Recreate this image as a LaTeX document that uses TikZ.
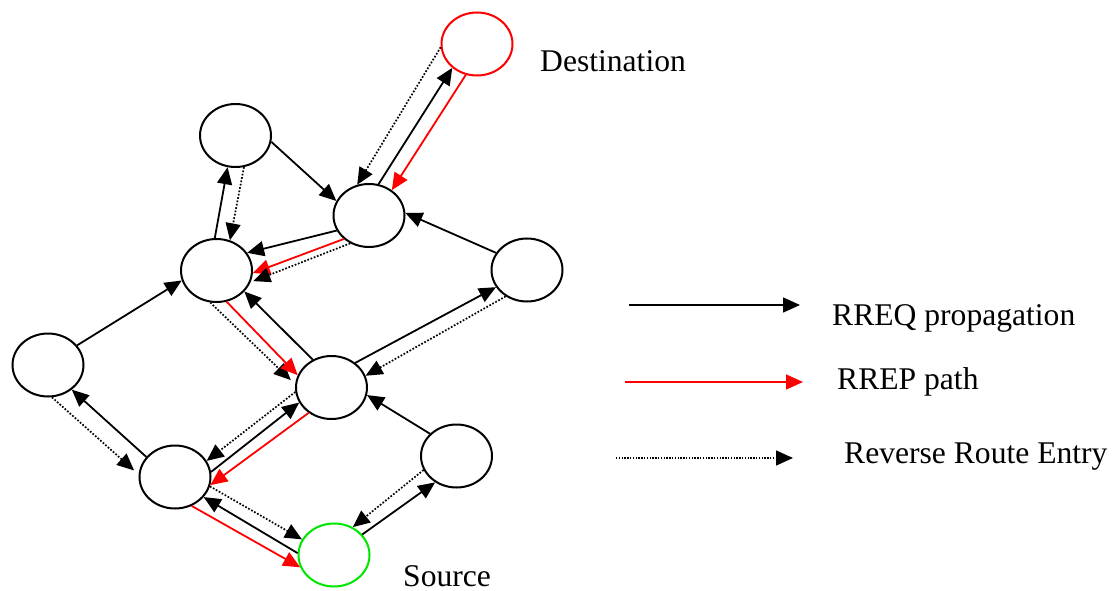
\documentclass[tikz,border=0pt]{standalone}
\usepackage{fontspec}
\setmainfont{Liberation Serif}
\usetikzlibrary{shapes.geometric,arrows.meta}

\definecolor{srcgreen}{RGB}{0,230,0}

\tikzset{
  netnode/.style={ellipse, draw, line width=2pt, minimum width=71pt, minimum height=63pt, inner sep=0pt},
  tipstyle/.style={-{Triangle[length=17pt,width=15pt]}},
  req/.style={line width=1.8pt, tipstyle},
  rep/.style={req, red},
  rev/.style={line width=1.7pt, dash pattern=on 1.7pt off 1.7pt, tipstyle},
  lbl/.style={anchor=base west, inner sep=0pt, font=\fontsize{31.6}{37}\selectfont}
}

\begin{document}
\begin{tikzpicture}[x=1pt,y=-1pt]
\useasboundingbox (0,0) rectangle (1120,591);

% network nodes
\node[netnode, draw=red] (dst) at (477,44) {};
\node[netnode] (n1) at (235.5,135.5) {};
\node[netnode] (n2) at (369,215.5) {};
\node[netnode] (n3) at (216.5,270.5) {};
\node[netnode] (n4) at (527,270) {};
\node[netnode] (n5) at (48,365) {};
\node[netnode] (n6) at (331.5,387.5) {};
\node[netnode] (n7) at (456.5,456) {};
\node[netnode] (n8) at (175,477) {};
\node[netnode, draw=srcgreen] (src) at (334,555) {};

% labels
\node[lbl] (dstlbl) at (540,72) {Destination};
\node[lbl] (srclbl) at (403,586) {Source};

% destination <-> n2
\draw[rev] (dst.185) -- (n2.111);
\draw[req] (n2.73) -- (dst.224);
\draw[rep] (dst.250) -- (n2.48);

% upper triangle
\draw[req] (n1.350) -- (n2.156);
\draw[req] (n3.93) -- (n1.256);
\draw[rev] (n1.285) -- (n3.66);
\draw[req] (n2.205) -- (n3.30);
\draw[rep] (n2.223) -- (n3.356);
\draw[rev, shorten >=3pt] (n2.236) -- (n3.341);
\draw[req] (n4.151) -- (n2.4);
\draw[req] (n5.34) -- (n3.196);

% n3 <-> n6
\draw[rev, shorten >=6pt] (n3.259) -- (n6.175);
\draw[rep] (n3.288) -- (n6.160);
\draw[req] (n6.124) -- (n3.323);

% n6 <-> n4, n7
\draw[req] (n6.46) -- (n4.209);
\draw[rev] (n4.231) -- (n6.19);
\draw[req] (n7.140) -- (n6.348);

% n7 <-> source
\draw[rev] (n7.203) -- (src.56);
\draw[req] (src.36) -- (n7.231);

% n6 <-> n8
\draw[rev] (n6.187) -- (n8.27);
\draw[req] (n8.8) -- (n6.205);
\draw[rep] (n6.228) -- (n8.347);

% n8 <-> source
\draw[rev] (n8.345) -- (src.154);
\draw[req] (src.177) -- (n8.325);
\draw[rep] (n8.300) -- (src.200);

% n8 <-> n5
\draw[req] (n8.145) -- (n5.314);
\draw[rev, shorten >=6pt] (n5.277) -- (n8.176);

% legend
\coordinate (la1) at (629,305);
\coordinate (lb1) at (800,305);
\coordinate (la2) at (625,382);
\coordinate (lb2) at (803,382);
\coordinate (la3) at (616,458);
\coordinate (lb3) at (793,458);
\draw[req, line width=1.6pt] (la1) -- (lb1);
\draw[rep, line width=1.6pt] (la2) -- (lb2);
\draw[rev, line width=1.4pt, dash pattern=on 1.4pt off 1.4pt] (la3) -- (lb3);
\node[lbl] (t1) at (832,325) {RREQ propagation};
\node[lbl] (t2) at (837,389) {RREP path};
\node[lbl] (t3) at (844,463) {Reverse Route Entry};
\end{tikzpicture}
\end{document}
